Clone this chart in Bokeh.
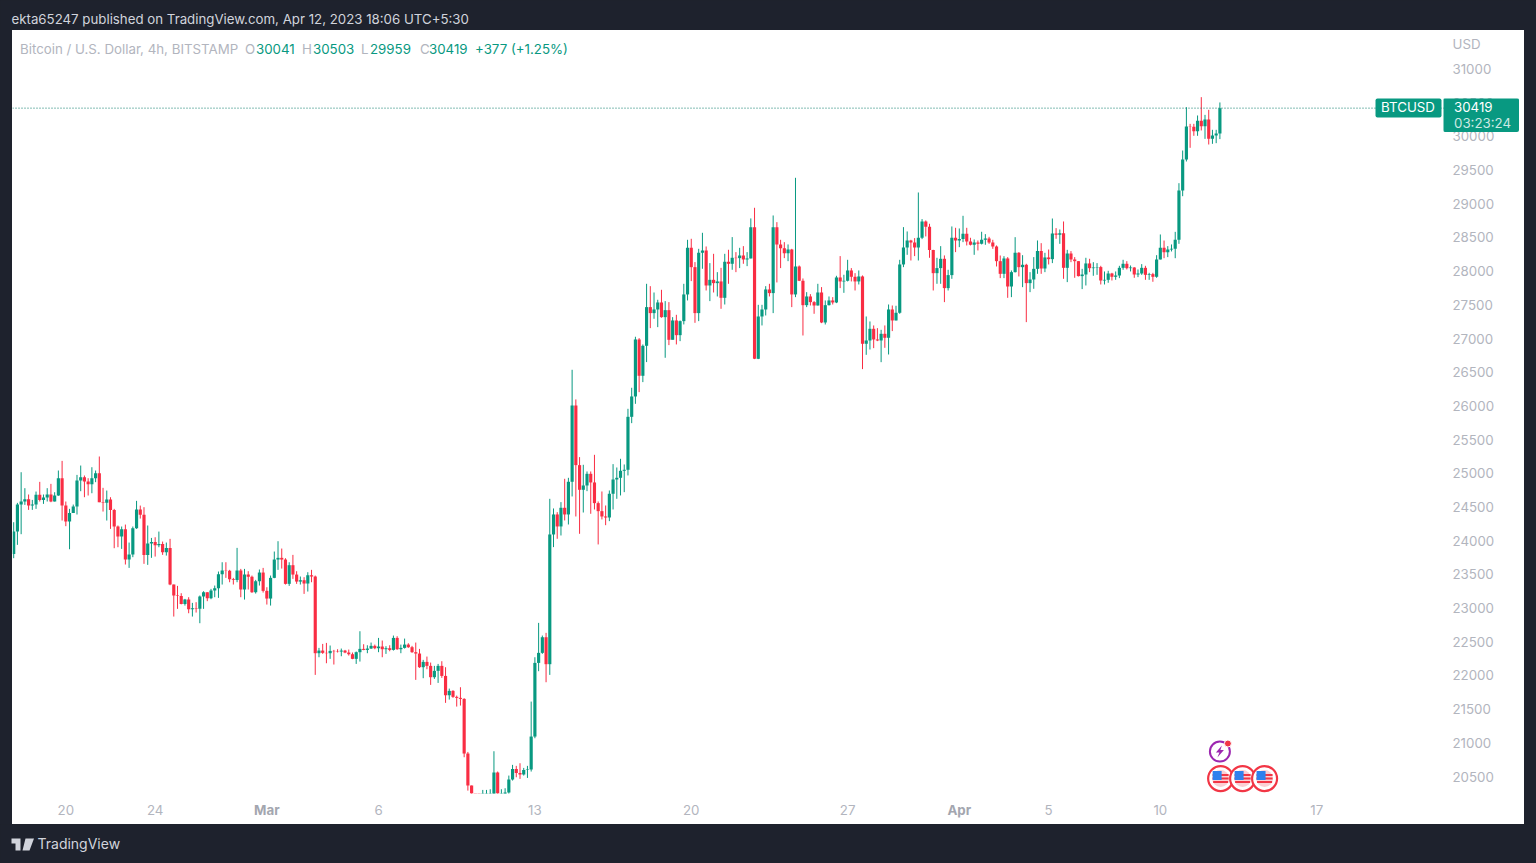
from bokeh.plotting import figure
from bokeh.models import ColumnDataSource, Range1d, LinearAxis, FixedTicker, Label, BoxAnnotation, PolyAnnotation, Span
from bokeh.embed import file_html
from bokeh.resources import INLINE

FIRST_OPEN = 23804
closes = [
24135,24536,24581,24615,24521,24536,24680,24605,24640,24685,
24581,24670,24927,24521,24284,24412,24506,24892,24942,24878,
24838,24927,25001,24571,24561,24610,24457,24210,24061,24170,
23720,23794,24185,24462,24383,23789,23957,23982,23933,23952,
23829,23893,23349,23186,23180,23062,23126,22983,22998,22988,
23171,23235,23146,23260,23295,23502,23557,23552,23428,23418,
23557,23275,23497,23463,23235,23398,23527,23255,23141,23448,
23720,23745,23720,23359,23636,23497,23393,23413,23364,23487,
23468,22330,22369,22335,22330,22364,22359,22354,22369,22340,
22315,22246,22345,22394,22379,22399,22439,22404,22429,22389,
22404,22379,22557,22389,22409,22458,22419,22345,22325,22122,
22201,22142,21974,22068,22142,21993,21706,21771,21682,21667,
21652,20841,20366,20100,20050,19950,20100,20150,20180,20559,
20200,20210,20262,20455,20613,20554,20529,20598,20605,21093,
22186,22335,22567,22167,24092,24389,24211,24488,24389,24874,
26006,25121,24755,24819,24992,24864,24557,24438,24359,24344,
24696,24908,24933,25037,25052,25838,26140,26986,26447,26892,
27466,27377,27431,27535,27317,27421,26981,27268,27050,27258,
27654,28346,28059,27377,28272,28307,27787,27871,27822,27847,
27604,28139,28109,28198,28193,28232,28173,28188,28653,26699,
27327,27431,27728,27674,28653,28396,28341,28267,28322,27654,
28069,27857,27495,27624,27540,27490,27683,27238,27495,27565,
27535,27906,27847,27857,28010,27916,27847,27921,26922,26971,
27144,26986,26971,27070,27011,27431,27268,27382,28099,28351,
28455,28425,28351,28495,28737,28658,28312,27970,28045,28183,
27748,27941,28495,28455,28475,28554,28440,28391,28425,28405,
28465,28485,28425,28366,28148,27960,28188,27772,27985,28272,
28059,28094,27822,27876,28034,28297,28039,28203,28178,28559,
28539,28564,28049,28262,28173,28148,27926,27950,28114,28044,
28054,28060,27861,27871,27965,27916,27935,28049,28109,28044,
28054,27950,27965,28049,27945,27955,27916,28173,28346,28281,
28321,28331,28464,29196,29656,30146,30141,30077,30230,30151,
30250,29963,30013,30041,30419,
]
highs = [
24274,24561,25016,24779,24685,24605,24729,24873,24685,24779,
24843,24719,25041,25184,24581,24472,24536,24976,25115,24967,
24927,25090,25041,25249,24784,24744,24645,24472,24225,24210,
24239,23972,24210,24591,24521,24497,24225,24041,24051,24135,
23987,23972,24027,23349,23329,23220,23136,23161,23077,23087,
23186,23250,23235,23285,23334,23542,23680,23680,23567,23448,
23893,23581,23581,23547,23482,23418,23572,23596,23309,23482,
23839,23992,23883,23740,23680,23789,23547,23468,23458,23532,
23567,23482,22409,22468,22483,22444,22379,22389,22399,22379,
22384,22340,22355,22656,22463,22448,22488,22458,22557,22518,
22434,22448,22592,22582,22458,22547,22478,22439,22488,22394,
22231,22280,22191,22142,22171,22211,22122,21805,21781,21701,
21825,21662,20865,20366,20180,20150,20301,20301,20311,20875,
20574,20311,20326,20514,20673,20658,20697,20628,20658,21612,
22270,22780,22592,22632,24621,24478,24423,24572,24918,24933,
26536,26096,25240,25126,25027,25027,25274,24582,24730,24522,
24745,25136,25086,25215,25131,25957,26269,27026,27006,26912,
27812,27777,27683,27575,27723,27555,27540,27317,27352,27268,
27812,28465,28480,28134,28331,28569,28366,28119,28257,27985,
28049,28257,28317,28505,28282,28346,28371,28282,28782,28940,
27500,27500,27777,27812,28826,28727,28465,28430,28396,28331,
29385,28084,27891,27688,27659,27555,27812,27763,27565,27624,
27614,27931,28223,27946,28168,28045,27970,28010,27936,27327,
27253,27194,27154,27129,27194,27505,27490,27486,28168,28653,
28589,28465,28490,29167,28772,28752,28703,28317,28198,28371,
28233,28020,28663,28643,28633,28821,28643,28495,28470,28455,
28584,28549,28509,28465,28381,28232,28222,28208,28010,28504,
28282,28237,28109,27985,28208,28455,28415,28272,28321,28781,
28638,28618,28737,28316,28297,28208,28148,28034,28198,28183,
28133,28119,28079,27995,28005,27975,27995,28079,28168,28148,
28084,28059,28025,28104,28079,27975,27975,28237,28544,28454,
28371,28396,28583,29305,29790,30433,30186,30186,30310,30582,
30319,30394,30097,30097,30503,
]
lows = [
23740,23938,24096,24531,24457,24457,24472,24581,24546,24581,
24571,24581,24665,24299,24215,23873,24417,24388,24734,24645,
24670,24704,24868,24571,24432,24299,24175,23888,23903,23878,
23646,23596,23755,24175,24328,23656,23641,23745,23764,23903,
23789,23779,23339,22874,22988,23055,23037,22923,22874,22933,
22775,22988,23102,23131,23161,23151,23349,23448,23383,23349,
23383,23161,23126,23275,23225,23215,23334,23230,23052,23037,
23443,23567,23586,23349,23329,23433,23359,23349,23210,23245,
23383,22008,22270,22320,22181,22246,22162,22340,22285,22330,
22295,22241,22171,22206,22374,22330,22394,22389,22345,22270,
22320,22359,22369,22379,22330,22399,22409,22335,21934,22112,
21959,22092,21860,21949,21889,21964,21593,21642,21667,21538,
21553,20786,20291,20000,19900,19600,19900,19950,20000,20100,
20100,20050,20100,20150,20440,20489,20465,20514,20479,20574,
21068,22063,22320,21899,22008,23904,24028,24077,24300,24240,
24656,24359,24102,24418,24735,24399,24463,23944,24315,24230,
24290,24463,24621,24671,24720,24968,25744,26031,26204,26353,
26650,27154,27293,27169,27308,26714,26902,26986,26912,26961,
27209,27565,27852,27233,27258,28035,27713,27555,27683,27624,
27441,27505,27812,28020,27985,28045,28109,28074,28188,26694,
26694,27194,27342,27624,27377,27832,28045,28193,28148,27466,
27614,27852,27045,27466,27490,27367,27490,27228,27208,27490,
27505,27525,27748,27678,27847,27847,27713,27802,26546,26758,
26837,26857,26961,26649,26862,26763,27110,27268,27367,28059,
28242,28158,28223,28158,28475,28515,28198,27713,27812,27812,
27540,27713,27886,28282,28356,28430,28381,28381,28242,28307,
28396,28391,28405,28331,28069,27896,27896,27604,27614,27980,
27921,27762,27243,27688,27738,27960,27960,27985,28099,28119,
28480,28405,27886,27837,28133,27901,27921,27733,27787,27985,
27931,27945,27802,27802,27827,27861,27871,27896,28020,28025,
27995,27901,27911,27945,27871,27871,27842,27901,28173,28192,
28208,28292,28192,28405,29112,29627,29830,30008,30008,30087,
29963,29879,29889,29899,29959,
]
assert len(closes) == len(highs) == len(lows) == 325

price_ticks = list(range(20500, 31500, 500))
unit_tick = 31370
date_ticks = [14, 38, 98, 140, 182, 224, 278, 308, 350]
date_labels = ["20", "24", "6", "13", "20", "27", "5", "10", "17"]
month_ticks = [68, 254]
month_labels = ["Mar", "Apr"]
bolt_bars = [324]
flag_bars = [324.2, 330.1, 336.0]

GREEN, RED = "#089981", "#f92d43"
DARK, GREY = "#1e222d", "#b2b5be"
PX_X, PX_Y = 0.26864, 14.841     # data units per pixel


def place(fig, left, top, z=1, **extra):
    fig.styles = {"position": "absolute", "left": f"{left}px", "top": f"{top}px", "z-index": str(z), **extra}


def blank(w, h, color):
    f = figure(width=w, height=h, output_backend="svg", toolbar_location=None,
               x_range=Range1d(0, w), y_range=Range1d(0, h),
               x_axis_location=None, y_axis_location=None,
               min_border_left=0, min_border_right=0, min_border_top=0, min_border_bottom=0,
               background_fill_color=color, border_fill_color=color, outline_line_color=None)
    f.grid.visible = False
    return f


def label(fig, x, y, text, color=GREY, size=13.3, align="left", bold=False):
    fig.add_layout(Label(x=x, y=y, x_units="canvas", y_units="canvas", text=text, text_color=color,
                         text_font="Inter", text_font_size=f"{size}px", text_align=align, text_baseline="middle",
                         text_font_style="bold" if bold else "normal"))


opens = [FIRST_OPEN] + closes[:-1]
idx = list(range(len(closes)))
cols = [GREEN if c >= o else RED for o, c in zip(opens, closes)]
src = ColumnDataSource(dict(x=idx, o=opens, c=closes, h=highs, l=lows, col=cols))

# main pane: white area 1512x794 at (12,30); the frame is the price pane, axes sit in its border
p = figure(width=1512, height=794, output_backend="svg", toolbar_location=None,
           x_range=Range1d(-0.322, 384.6), y_range=Range1d(20248, 31571),
           x_axis_location=None, y_axis_location=None,
           min_border_left=0, min_border_right=79, min_border_top=0, min_border_bottom=31,
           background_fill_color="white", border_fill_color="white", outline_line_color=None)
p.grid.visible = False
place(p, 12, 30, 1, **{"background-color": "white"})


def style_axis(ax, color, bold, standoff):
    ax.axis_line_color = None
    ax.major_tick_line_color = None
    ax.minor_tick_line_color = None
    ax.major_tick_out = 0
    ax.major_tick_in = 0
    ax.major_label_text_color = color
    ax.major_label_text_font = "Inter"
    ax.major_label_text_font_style = "bold" if bold else "normal"
    ax.major_label_text_font_size = "13.3px"
    ax.major_label_standoff = standoff


price_axis = LinearAxis(ticker=FixedTicker(ticks=price_ticks + [unit_tick]), major_label_overrides={unit_tick: "USD"})
style_axis(price_axis, GREY, False, 7)
p.add_layout(price_axis, "right")
day_axis = LinearAxis(ticker=FixedTicker(ticks=date_ticks), major_label_overrides=dict(zip(date_ticks, date_labels)))
style_axis(day_axis, GREY, False, 11)
p.add_layout(day_axis, "below")
month_axis = LinearAxis(ticker=FixedTicker(ticks=month_ticks), major_label_overrides=dict(zip(month_ticks, month_labels)))
style_axis(month_axis, "#a3a6af", True, -16)
p.add_layout(month_axis, "below")

p.add_layout(Span(location=closes[-1], dimension="width", line_color="#067a67", line_width=1, line_dash="1 2"))
p.segment("x", "h", "x", "l", color="col", line_width=1, source=src)
p.vbar("x", width=0.85, top="o", bottom="c", fill_color="col", line_color=None, source=src)

# event icons
lx, ly = bolt_bars[0], 20871
p.scatter([lx], [ly], size=20, marker="circle", fill_color="white", line_color="#9c27b0", line_width=2)
p.patch([lx + d * PX_X for d in (2, -4, -0.5, -2.5, 4, 0.5)],
        [ly + d * PX_Y for d in (6, -1, -1, -6, 1.5, 1.5)], color="#9c27b0", line_width=0)
p.scatter([lx + 8 * PX_X], [ly + 8 * PX_Y], size=7, marker="circle", fill_color="#f23645", line_color="white")
fy = 20470
p.scatter(flag_bars, [fy] * 3, size=25, marker="circle", fill_color="white", line_color="#f23645", line_width=2.2)
p.scatter(flag_bars, [fy] * 3, size=17, marker="circle", fill_color="#fbd0d4", line_color=None)
for off, w, h in ((0, 16, 2), (-3.5, 15, 2), (3.5, 16, 2)):
    p.rect(flag_bars, [fy + off * PX_Y] * 3, width=w, height=h, width_units="screen", height_units="screen",
           color="#f23645", line_width=0)
p.rect([b - 3.5 * PX_X for b in flag_bars], [fy + 3 * PX_Y] * 3, width=9, height=9,
       width_units="screen", height_units="screen", color="#2f80ed", line_width=0)

# BTCUSD tag, inside the frame
p.add_layout(BoxAnnotation(left=1375 - 12, right=1441 - 12, top=98 - 30, bottom=117 - 30,
                           left_units="canvas", right_units="canvas", top_units="canvas", bottom_units="canvas",
                           fill_color=GREEN, fill_alpha=1, line_color=None, border_radius=2))
label(p, 1407.5 - 12, 106 - 30, "BTCUSD", "white", 13.3, "center")

# legend
label(p, 19.5 - 12, 48 - 30, "Bitcoin / U.S. Dollar, 4h, BITSTAMP", GREY)
for x, t, c in ((244.5, "O", GREY), (255.5, "30041", GREEN), (301.5, "H", GREY), (312.5, "30503", GREEN),
                (360.5, "L", GREY), (369.5, "29959", GREEN), (419.5, "C", GREY), (428.5, "30419", GREEN),
                (474.5, "+377 (+1.25%)", GREEN)):
    label(p, x - 12, 48 - 30, t, c)

# header strip
header = blank(1536, 30, DARK)
place(header, 0, 0)
label(header, 11, 18, "ekta65247 published on TradingView.com, Apr 12, 2023 18:06 UTC+5:30", "#d1d4dc", 13.27)

# footer strip
footer = blank(1536, 39, DARK)
place(footer, 0, 824)
footer.add_layout(PolyAnnotation(xs=[11, 20, 20, 15, 15, 11], ys=[14, 14, 26, 26, 19, 19],
                                 xs_units="canvas", ys_units="canvas", fill_color="#d1d4dc", fill_alpha=1,
                                 line_color=None))
footer.add_layout(PolyAnnotation(xs=[25, 33.5, 29, 22], ys=[14, 14, 26, 26],
                                 xs_units="canvas", ys_units="canvas", fill_color="#d1d4dc", fill_alpha=1,
                                 line_color=None))
label(footer, 37, 19, "TradingView", "#d1d4dc", 14)

# last-price tag, floating above the price scale
tag = blank(76, 34, GREEN)
place(tag, 1443, 98, 5, **{"border-radius": "2px", "overflow": "hidden"})
label(tag, 10.5, 8.5, "30419", "white")
label(tag, 10.5, 24, "03:23:24", "#cdeae4")

html = file_html([p, header, footer, tag], INLINE)
html = html.replace("</head>", f"<style>html,body{{background:{DARK};overflow:hidden}}</style></head>")
open("out.html", "w").write(html)
